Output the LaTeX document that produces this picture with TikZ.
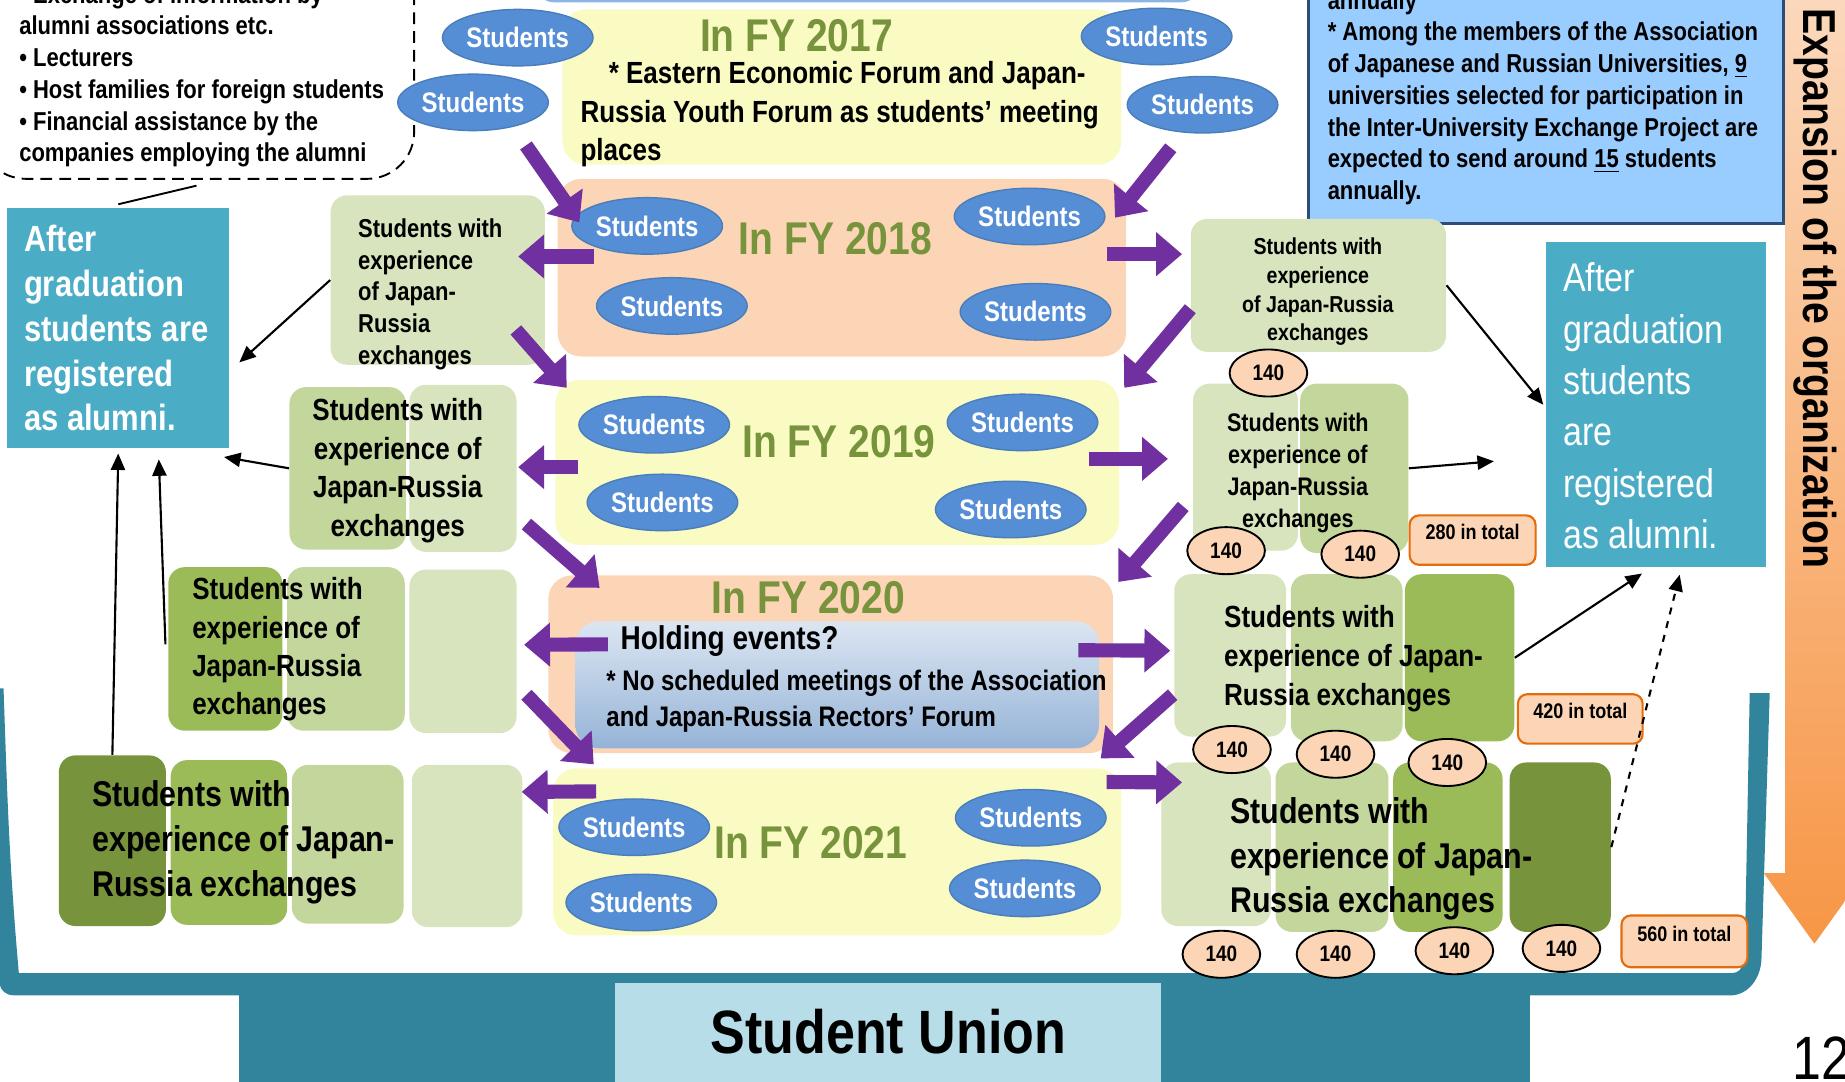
\documentclass[tikz,border=0pt]{standalone}
\usepackage{fontspec}
\setmainfont{Liberation Sans}[FakeStretch=0.85]
\newfontfamily\plainfont{Liberation Sans}
\usetikzlibrary{shapes.geometric,arrows.meta,positioning,calc,fit}

\definecolor{frameteal}{HTML}{31849B}
\definecolor{alumblue}{HTML}{4BACC6}
\definecolor{unionblue}{HTML}{B7DEE8}
\definecolor{panelyellow}{HTML}{FAFAC3}
\definecolor{panelpeach}{HTML}{FBD5B5}
\definecolor{greenA}{HTML}{D7E4BD}
\definecolor{greenB}{HTML}{C3D69B}
\definecolor{greenC}{HTML}{9BBB59}
\definecolor{greenD}{HTML}{77933C}
\definecolor{studblue}{HTML}{558ED5}
\definecolor{studedge}{HTML}{4A7EBB}
\definecolor{exchpurple}{HTML}{7030A0}
\definecolor{notefill}{HTML}{99CCFF}
\definecolor{noteedge}{HTML}{2C4D75}
\definecolor{totaledge}{HTML}{E46C0A}
\definecolor{evtop}{HTML}{DCE6F2}
\definecolor{evbot}{HTML}{95B3D7}
\definecolor{arrowtop}{HTML}{FBD9BD}
\definecolor{arrowbot}{HTML}{F79646}
\definecolor{stripblue}{HTML}{8EB4E3}

\newcommand{\fsz}[2]{\fontsize{#1}{#2}\selectfont}

\begin{document}
\begin{tikzpicture}[
    x=0.5pt, y=-0.5pt,
    panel/.style={rounded corners=10pt, inner sep=0pt},
    col/.style={rounded corners=7pt, inner sep=0pt},
    stud/.style={
        ellipse, fill=studblue, draw=studedge, line width=0.6pt,
        text=white, font=\bfseries\fsz{12}{14},
        minimum width=64pt, minimum height=24pt, inner sep=0pt
    },
    cnt/.style={
        ellipse, fill=panelpeach, draw=black, line width=0.8pt,
        font=\bfseries\fsz{9.5}{11},
        minimum width=33pt, minimum height=20pt, inner sep=0pt
    },
    total/.style={rounded corners=4pt, fill=panelpeach, draw=totaledge,
        line width=0.9pt, inner sep=0pt, font=\bfseries\fsz{9}{11}},
    year/.style={text=greenD, font=\bfseries\fsz{19.5}{22}, inner sep=0pt},
    txt/.style={inner sep=0pt, align=left},
    pur/.style={exchpurple, line width=6pt, -{Triangle[length=11pt,width=18pt]}},
    link/.style={line width=0.9pt, -{Triangle[length=7pt,width=6pt]}},
]
  \useasboundingbox (0,0) rectangle (1568,919);

  %--- Student Union frame ---------------------------------
  \fill[frameteal] (0,585) -- (0,836) to[out=-90,in=180] (12,846) -- (1470,846)
      to[out=0,in=-92] (1497,815) -- (1504,589) -- (1487,589) -- (1483,800)
      to[out=-92,in=0] (1472,827) -- (16,827) to[out=95,in=-88] (3,585) -- cycle;
  \fill[frameteal] (203,840) rectangle (1300,925);
  \node[fill=unionblue, fit={(523,835) (987,925)}, inner sep=0pt] (union) {};
  \node[font=\bfseries\fsz{26}{28}, inner sep=0pt] (uniontext) at (755,877) {Student Union};

  %--- Expansion arrow --------------------------------------
  \shade[top color=arrowtop, bottom color=arrowbot] (1517,-10) -- (1517,742)
      -- (1499,742) -- (1542,802) -- (1585,742) -- (1568,742) -- (1568,-10) -- cycle;
  \node[rotate=-90, font=\bfseries\fsz{19.6}{22}, inner sep=0pt] (expand) at (1543,245)
      {Expansion of the organization};
  \node[font=\fsz{26}{28}, inner sep=0pt, anchor=base west] (pagenum) at (1523,917) {12};

  %--- Notes on top ------------------------------------------
  \node[fill=stripblue, rounded corners=8pt, inner sep=0pt, fit={(455,-40) (1020,2)}] (strip) {};

  \node[draw, dash pattern=on 5pt off 3pt, line width=0.8pt, fill=white, rounded corners=20pt,
        inner sep=0pt, fit={(-18,-60) (352,152)}] (tips) {};
  \node[txt, anchor=west, font=\bfseries\fsz{11}{13.5}] (tipstext) at (16,64.5)
      {• Exchange of information by\\alumni associations etc.\\• Lecturers\\
       • Host families for foreign students\\• Financial assistance by the\\
       companies employing the alumni};

  \node[fill=notefill, draw=noteedge, line width=1.3pt, inner sep=0pt,
        fit={(1112,-30) (1516,190)}] (note) {};
  \node[txt, anchor=west, font=\bfseries\fsz{11}{13.5}] (notetext) at (1128,83)
      {annually\\* Among the members of the Association\\
       of Japanese and Russian Universities, \underline{9}\\
       universities selected for participation in\\
       the Inter-University Exchange Project are\\
       expected to send around \underline{15} students\\annually.};

  %--- Alumni boxes -------------------------------------------
  \node[fill=alumblue, inner sep=0pt, fit={(6,177) (195,381)}] (alumL) {};
  \node[txt, text=white, anchor=west, font=\bfseries\fsz{15.5}{19}] (alumLtext) at (20,279)
      {After\\graduation\\students are\\registered\\as alumni.};
  \node[fill=alumblue, inner sep=0pt, fit={(1314,206) (1501,482)}] (alumR) {};
  \node[txt, text=white, anchor=west, font=\fsz{17}{21.8}] (alumRtext) at (1328,345)
      {After\\graduation\\students\\are\\registered\\as alumni.};
  \draw[line width=0.8pt] ([yshift=-2.5pt]tips.south) -- ([yshift=1.5pt]alumL.north);

  %--- Year panels --------------------------------------------
  \node[panel, fill=panelyellow, fit={(478,8) (953,140)}] (p17) {};
  \node[panel, fill=panelpeach, fit={(474,152) (957,303)}] (p18) {};
  \node[panel, fill=panelyellow, fit={(472,323) (951,463)}] (p19) {};
  \node[panel, fill=panelpeach, fit={(466,489) (946,640)}] (p20) {};
  \node[panel, fill=panelyellow, fit={(470,653) (953,795)}] (p21) {};
  \node[panel, top color=evtop, bottom color=evbot, fit={(489,528) (934,636)}] (ev20) {};

  \node[year] (y17) at (677,30) {In FY 2017};
  \node[year] (y18) at (710,203) {In FY 2018};
  \node[year] (y19) at (713,375) {In FY 2019};
  \node[year] (y20) at (687,508) {In FY 2020};
  \node[year] (y21) at (689,716) {In FY 2021};

  \node[txt, anchor=west, font=\bfseries\fsz{13}{16.25}] (forum17) at (493,97)
      {\hspace*{12pt}* Eastern Economic Forum and Japan-\\
       Russia Youth Forum as students’ meeting\\places};
  \node[txt, anchor=west, font=\bfseries\fsz{14}{16}] (ask20) at (527,545) {Holding events?};
  \node[txt, anchor=west, font=\bfseries\fsz{12}{15}] (note20) at (515,596)
      {* No scheduled meetings of the Association\\and Japan-Russia Rectors’ Forum};

  \foreach \nm/\px/\py in {s17a/440/32, s17b/402/87, s17c/983/31, s17d/1022/89,
      s18a/550/192, s18b/571/260, s18c/875/184, s18d/880/265,
      s19a/556/361, s19b/563/427, s19c/869/359, s19d/859/433,
      s21a/539/703, s21b/545/767, s21c/876/695, s21d/871/755}
    \node[stud] (\nm) at (\px,\py) {Students};

  %--- Left stacks --------------------------------------------
  \node[col, fill=greenA, fit={(281,166) (463,310)}] (l18) {};
  \node[col, fill=greenB, fit={(246,329) (345,467)}] (l19a) {};
  \node[col, fill=greenA, fit={(348,327) (439,469)}] (l19b) {};
  \node[col, fill=greenC, fit={(143,482) (240,621)}] (l20a) {};
  \node[col, fill=greenB, fit={(244,482) (344,621)}] (l20b) {};
  \node[col, fill=greenA, fit={(348,484) (439,623)}] (l20c) {};
  \node[col, fill=greenD, fit={(50,642) (141,787)}] (l21a) {};
  \node[col, fill=greenC, fit={(145,646) (244,786)}] (l21b) {};
  \node[col, fill=greenB, fit={(248,650) (343,785)}] (l21c) {};
  \node[col, fill=greenA, fit={(350,650) (444,788)}] (l21d) {};

  \node[txt, anchor=west, font=\bfseries\fsz{11}{13.5}] (l18t) at (304,250)
      {Students with\\experience\\of Japan-\\Russia\\exchanges};
  \node[txt, align=center, font=\bfseries\fsz{13}{16.5}] (l19t) at (338,400)
      {Students with\\experience of\\Japan-Russia\\exchanges};
  \node[txt, anchor=west, font=\bfseries\fsz{13}{16.25}] (l20t) at (163,552)
      {Students with\\experience of\\Japan-Russia\\exchanges};
  \node[txt, anchor=west, font=\bfseries\fsz{15.2}{19}] (l21t) at (78,716)
      {Students with\\experience of Japan-\\Russia exchanges};

  %--- Right stacks -------------------------------------------
  \node[col, fill=greenA, fit={(1012,186) (1229,299)}] (r18) {};
  \node[col, fill=greenA, fit={(1014,326) (1103,468)}] (r19a) {};
  \node[col, fill=greenB, fit={(1105,326) (1197,470)}] (r19b) {};
  \node[col, fill=greenA, fit={(998,488) (1093,626)}] (r20a) {};
  \node[col, fill=greenB, fit={(1097,488) (1192,630)}] (r20b) {};
  \node[col, fill=greenC, fit={(1194,488) (1287,630)}] (r20c) {};
  \node[col, fill=greenA, fit={(987,648) (1080,787)}] (r21a) {};
  \node[col, fill=greenB, fit={(1084,648) (1180,792)}] (r21b) {};
  \node[col, fill=greenC, fit={(1184,648) (1277,792)}] (r21c) {};
  \node[col, fill=greenD, fit={(1283,648) (1369,792)}] (r21d) {};

  \node[txt, align=center, font=\bfseries\fsz{9.8}{12.2}] (r18t) at (1120,248)
      {Students with\\experience\\of Japan-Russia\\exchanges};
  \node[txt, align=center, font=\bfseries\fsz{10.8}{13.7}] (r19t) at (1103,402)
      {Students with\\experience of\\Japan-Russia\\exchanges};
  \node[txt, anchor=west, font=\bfseries\fsz{13}{16.5}] (r20t) at (1040,560)
      {Students with\\experience of Japan-\\Russia exchanges};
  \node[txt, anchor=west, font=\bfseries\fsz{15.2}{19}] (r21t) at (1045,730)
      {Students with\\experience of Japan-\\Russia exchanges};

  \foreach \nm/\px/\py in {c18a/1078/317, c19a/1042/468, c19b/1156/471,
      c20a/1047/637, c20b/1135/641, c20c/1230/648,
      c21a/1038/811, c21b/1135/811, c21c/1236/808, c21d/1327/806}
    \node[cnt] (\nm) at (\px,\py) {140};

  \node[total, fit={(1198,438) (1305,480)}] (t280) {280 in total};
  \node[total, fit={(1290,590) (1396,632)}] (t420) {420 in total};
  \node[total, fit={(1378,778) (1485,822)}] (t560) {560 in total};

  %--- Purple exchange arrows ---------------------------------
  \draw[pur] ($(s17b.south)+(45,12)$) -- ($(s18a.west)+(7,-3)$);
  \draw[pur] ($(s17d.south)+(-27,12)$) -- ($(s18c.east)+(8,1)$);
  \draw[pur] ($(p18.west)+(31,-9.5)$) -- ($(l18.east)+(-23,-20)$);
  \draw[pur] ($(p18.east)+(-17,-11.5)$) -- ($(r18.west)+(-7,-26.5)$);
  \draw[pur] ($(l18.south east)+(-25,-30)$) -- ($(p19.north west)+(10,7)$);
  \draw[pur] ($(r18.south west)+(0,-37)$) -- ($(p19.north east)+(4,7)$);
  \draw[pur] ($(p19.west)+(20,4)$) -- ($(l19b.east)+(1,-1)$);
  \draw[pur] ($(p19.east)+(-26,-3)$) -- ($(r19a.west)+(-21,-7)$);
  \draw[pur] ($(l19b.south east)+(8,-24)$) -- ($(p20.north west)+(44,11)$);
  \draw[pur] ($(r19a.south west)+(-8,-38)$) -- ($(p20.north east)+(4,6)$);
  \draw[pur] ($(ev20.north west)+(28,20)$) -- ($(l20c.east)+(6,-5.5)$);
  \draw[pur] ($(ev20.north east)+(-18,25)$) -- ($(r20a.west)+(-3,-4)$);
  \draw[pur] ($(l20c.south east)+(8,-33)$) -- ($(p21.north west)+(35,-3)$);
  \draw[pur] ($(r20a.south west)+(-1,-36)$) -- ($(p21.north east)+(-18,-8)$);
  \draw[pur] ($(p21.north west)+(37,20)$) -- ($(l21d.east)+(-1,-46)$);
  \draw[pur] ($(p21.north east)+(-13,12)$) -- ($(r21a.west)+(18,-52.5)$);

  %--- To the alumni ------------------------------------------
  \draw[link] (l18.west) -- ($(alumL.east)+(8,29)$);
  \draw[link] (l19a.west) -- ($(alumL.south east)+(-5,7)$);
  \draw[link] ($(l20a.north west)+(-2,66)$) -- ($(alumL.south)+(34.5,9)$);
  \draw[link] (l21a.north) -- ($(alumL.south)+(0,4)$);
  \draw[link] (r18.east) -- ($(alumR.west)+(-2,0)$);
  \draw[link] (r19b.east) -- ($(alumR.west)+(-44,48)$);
  \draw[link] (r20c.east) -- ($(alumR.south)+(-12,5)$);
  \draw[link, dashed] (r21d.east) -- ($(alumR.south)+(20,6)$);
\end{tikzpicture}
\end{document}
